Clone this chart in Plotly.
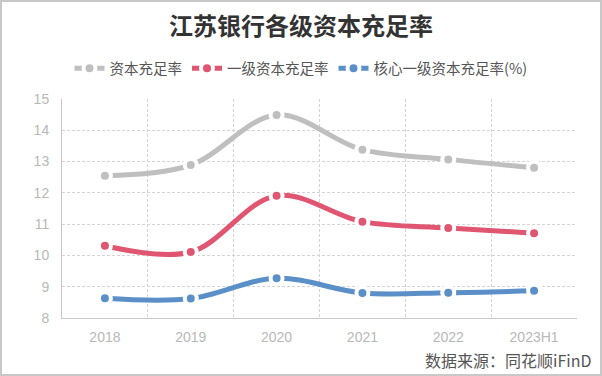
import plotly.graph_objects as go

categories = ["2018", "2019", "2020", "2021", "2022", "2023H1"]
car_total = [12.55, 12.89, 14.49, 13.38, 13.07, 12.80]
car_tier1 = [10.31, 10.11, 11.91, 11.08, 10.88, 10.71]
car_core = [8.63, 8.62, 9.27, 8.80, 8.81, 8.87]
series_names = ["资本充足率", "一级资本充足率", "核心一级资本充足率(%)"]
colors = ["#bfbfbf", "#e05570", "#5b8fc7"]

FONT = "Liberation Sans, Arial, Noto Sans CJK SC, sans-serif"
CJK = "Noto Sans CJK SC, sans-serif"

fig = go.Figure()
for name, vals, col in zip(series_names, [car_total, car_tier1, car_core], colors):
    fig.add_trace(go.Scatter(
        x=categories, y=vals, name=name, mode="lines+markers",
        line=dict(color=col, width=5, shape="spline", smoothing=1.0),
        marker=dict(color=col, size=12, line=dict(color="white", width=4)),
    ))

fig.update_layout(
    width=602, height=376,
    margin=dict(l=62, r=25, t=99, b=58),
    paper_bgcolor="white", plot_bgcolor="white",
    title=dict(text="<b>江苏银行各级资本充足率</b>", x=0.5, xanchor="center", y=0.93, yanchor="middle",
               font=dict(family=CJK, size=24, color="#333333")),
    legend=dict(orientation="h", x=(301 - 62) / 515, xanchor="center", y=1.14, yanchor="middle",
                font=dict(family=CJK, size=14.5, color="#555555"), itemwidth=30,
                tracegroupgap=0, bgcolor="rgba(0,0,0,0)"),
    showlegend=True,
    xaxis=dict(type="category", tickson="boundaries", showgrid=True, gridcolor="#d4d4d4",
               griddash="3px,2px", gridwidth=1, showline=True, linecolor="#c8c8c8", linewidth=1,
               ticks="", tickfont=dict(family=FONT, size=14, color="#b8b8b8"),
               ticklabelstandoff=6, range=[-0.5, 5.5]),
    yaxis=dict(range=[8, 15], dtick=1, showgrid=True, gridcolor="#d4d4d4", griddash="3px,2px",
               gridwidth=1, showline=True, linecolor="#c8c8c8", linewidth=1, zeroline=False,
               ticks="", tickfont=dict(family=FONT, size=14, color="#b8b8b8"), ticklabelstandoff=9),
    shapes=[dict(type="rect", xref="paper", yref="paper", x0=-61/515, x1=1+24/515,
                 y0=-57/219, y1=1+98/219, line=dict(color="#c8c8c8", width=2))],
    annotations=[dict(text="数据来源：同花顺iFinD", xref="paper", yref="paper",
                      x=1+16/515, y=-42/219, xanchor="right", yanchor="middle", showarrow=False,
                      font=dict(family=CJK, size=16, color="#555555"))],
)

fig.write_html("out.html", config={"displayModeBar": False},
               post_script="document.body.style.margin='0';document.body.style.padding='0';")
